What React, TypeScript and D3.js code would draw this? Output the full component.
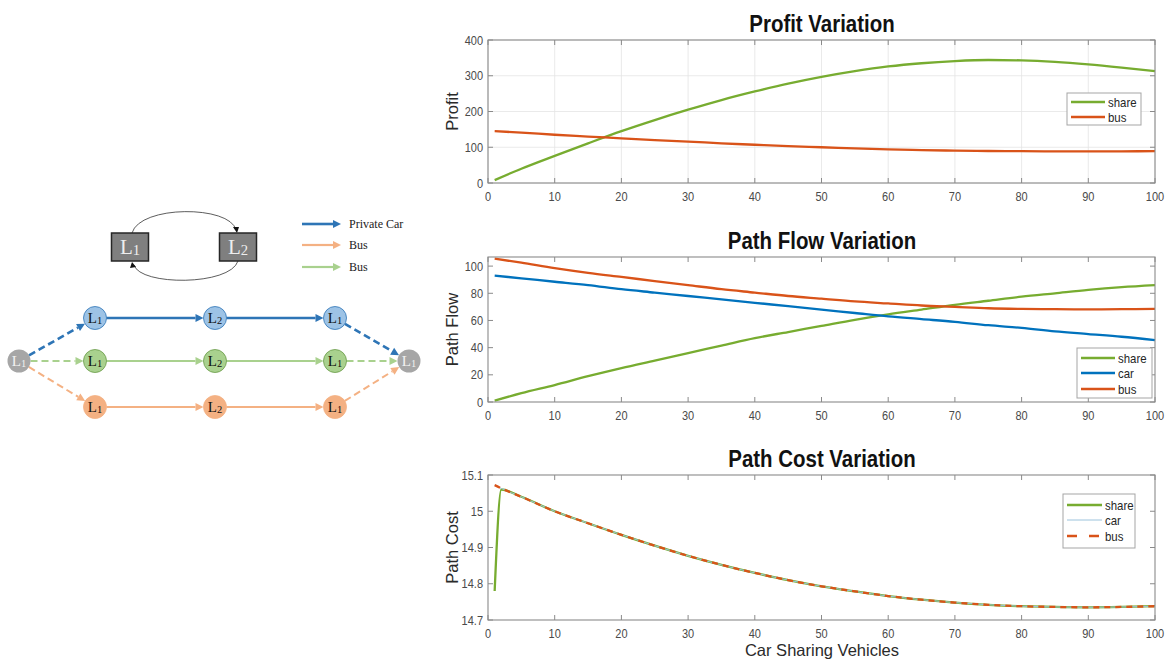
import * as d3 from 'd3';

// x positions (car sharing vehicles)
const flowX = [1, 5, 10, 15, 20, 25, 30, 35, 40, 45, 50, 55, 60, 65, 70, 75, 80, 85, 90, 95, 100];

const profitShare = [8, 40, 76, 111, 145, 176, 205, 232, 256, 278, 297, 313, 326, 335, 341, 344, 343, 339, 332, 323, 313];
const profitBus = [145, 141, 135, 130, 125, 120, 116, 111, 107, 103, 100, 97, 94, 92, 90.5, 89.5, 89, 88.5, 88.5, 88.7, 89];

const flowShare = [1, 6.5, 12.5, 19, 25, 30.5, 36, 41.5, 47, 51.5, 56, 60.5, 64.5, 68, 71.5, 74.5, 77.5, 80, 82.5, 84.5, 86];
const flowCar = [93, 91, 88.5, 86, 83, 80.5, 78, 75.5, 73, 70.5, 68, 65.5, 63, 61, 59, 56.5, 54.5, 52, 50, 48, 45.5];
const flowBus = [105.5, 102.5, 98.5, 95, 92, 89, 86, 83, 80.5, 78, 76, 74, 72.5, 71, 70, 69, 68.5, 68.3, 68.2, 68.3, 68.5];

const costX = [1, 2, 5, 10, 15, 20, 25, 30, 35, 40, 45, 50, 55, 60, 65, 70, 75, 80, 85, 90, 95, 100];
const costShare = [14.78, 15.06, 15.04, 15.0, 14.967, 14.935, 14.905, 14.877, 14.852, 14.83, 14.81, 14.793, 14.779, 14.766, 14.756, 14.748, 14.742, 14.738, 14.736, 14.735, 14.736, 14.738];
const costCar = [15.072, 15.063, 15.04, 15.0, 14.967, 14.935, 14.905, 14.877, 14.852, 14.83, 14.81, 14.793, 14.779, 14.766, 14.756, 14.748, 14.742, 14.738, 14.736, 14.735, 14.736, 14.738];
const costBus = [15.072, 15.063, 15.04, 15.0, 14.967, 14.935, 14.905, 14.877, 14.852, 14.83, 14.81, 14.793, 14.779, 14.766, 14.756, 14.748, 14.742, 14.738, 14.736, 14.735, 14.736, 14.738];

const xTicks = [0, 10, 20, 30, 40, 50, 60, 70, 80, 90, 100];

const GREEN = '#77ac30';
const BLUE = '#0072bd';
const ORANGE = '#d95319';
const LIGHTBLUE = '#9cc3dc';

const LEFT = 488;
const RIGHT = 1155;
const SANS = "'Liberation Sans', Arial, sans-serif";
const SERIF = "'Liberation Serif', 'Times New Roman', serif";

type Series = { name: string; xs: number[]; ys: number[]; color: string; width: number; dash?: string };
type Panel = {
  title: string; ylabel: string; top: number; bottom: number; domain: [number, number];
  yTicks: number[]; yFmt: (v: number) => string; grid: boolean; series: Series[];
  legend: { x: number; y: number; w: number; h: number; rowY: number[]; lineLen: number };
};

const panels: Panel[] = [
  {
    title: 'Profit Variation', ylabel: 'Profit', top: 40, bottom: 183, domain: [0, 400],
    yTicks: [0, 100, 200, 300, 400], yFmt: v => String(v), grid: true,
    series: [
      { name: 'share', xs: flowX, ys: profitShare, color: GREEN, width: 2.3 },
      { name: 'bus', xs: flowX, ys: profitBus, color: ORANGE, width: 2.3 },
    ],
    legend: { x: 1067, y: 93, w: 74, h: 32, rowY: [102, 117], lineLen: 34 },
  },
  {
    title: 'Path Flow Variation', ylabel: 'Path Flow', top: 257, bottom: 402, domain: [0, 106.7],
    yTicks: [0, 20, 40, 60, 80, 100], yFmt: v => String(v), grid: false,
    series: [
      { name: 'share', xs: flowX, ys: flowShare, color: GREEN, width: 2.3 },
      { name: 'car', xs: flowX, ys: flowCar, color: BLUE, width: 2.3 },
      { name: 'bus', xs: flowX, ys: flowBus, color: ORANGE, width: 2.3 },
    ],
    legend: { x: 1077, y: 348, w: 75, h: 50, rowY: [358, 373, 389], lineLen: 34 },
  },
  {
    title: 'Path Cost Variation', ylabel: 'Path Cost', top: 475, bottom: 620, domain: [14.7, 15.1],
    yTicks: [14.7, 14.8, 14.9, 15.0, 15.1], yFmt: v => d3.format('~g')(+v.toFixed(1)), grid: false,
    series: [
      { name: 'share', xs: costX, ys: costShare, color: GREEN, width: 2.3 },
      { name: 'car', xs: costX, ys: costCar, color: LIGHTBLUE, width: 1 },
      { name: 'bus', xs: costX, ys: costBus, color: ORANGE, width: 2.3, dash: '6,5' },
    ],
    legend: { x: 1063, y: 494, w: 72, h: 54, rowY: [505, 520, 536], lineLen: 35 },
  },
];

// condensed text (the reference uses a narrow Helvetica)
function NText({ x, y, anchor = 'start', size, children, fill = '#4a4a4a', weight, sx = 0.88 }:
  { x: number; y: number; anchor?: string; size: number; children: any; fill?: string; weight?: string; sx?: number }) {
  return (
    <text transform={`translate(${x},${y}) scale(${sx},1)`} textAnchor={anchor} fontSize={size}
      fill={fill} fontWeight={weight} fontFamily={SANS}>{children}</text>
  );
}

function Chart({ p }: { p: Panel }) {
  const x = d3.scaleLinear().domain([0, 100]).range([LEFT, RIGHT]);
  const y = d3.scaleLinear().domain(p.domain).range([p.bottom, p.top]);
  const line = d3.line<[number, number]>().x(d => x(d[0])).y(d => y(d[1])).curve(d3.curveMonotoneX);
  const tk = 5;
  const axisColor = '#8a8a8a';
  return (
    <g>
      {p.grid && xTicks.map(t => (
        <line key={'gx' + t} x1={x(t)} x2={x(t)} y1={p.top} y2={p.bottom} stroke="#e4e4e4" strokeWidth={0.8} />
      ))}
      {p.grid && p.yTicks.map(t => (
        <line key={'gy' + t} x1={LEFT} x2={RIGHT} y1={y(t)} y2={y(t)} stroke="#e4e4e4" strokeWidth={0.8} />
      ))}
      {p.series.map(s => (
        <path key={s.name} d={line(s.xs.map((v, i) => [v, s.ys[i]] as [number, number])) || ''}
          fill="none" stroke={s.color} strokeWidth={s.width} strokeDasharray={s.dash} />
      ))}
      <rect x={LEFT} y={p.top} width={RIGHT - LEFT} height={p.bottom - p.top} fill="none" stroke={axisColor} strokeWidth={1.1} />
      {xTicks.map(t => (
        <g key={'xt' + t}>
          <line x1={x(t)} x2={x(t)} y1={p.bottom} y2={p.bottom - tk} stroke={axisColor} />
          <line x1={x(t)} x2={x(t)} y1={p.top} y2={p.top + tk} stroke={axisColor} />
          <NText x={x(t)} y={p.bottom + 18} anchor="middle" size={12.5}>{t}</NText>
        </g>
      ))}
      {p.yTicks.map(t => (
        <g key={'yt' + t}>
          <line x1={LEFT} x2={LEFT + tk} y1={y(t)} y2={y(t)} stroke={axisColor} />
          <line x1={RIGHT} x2={RIGHT - tk} y1={y(t)} y2={y(t)} stroke={axisColor} />
          <NText x={LEFT - 5} y={y(t) + 4.5} anchor="end" size={12.5}>{p.yFmt(t)}</NText>
        </g>
      ))}
      <NText x={822} y={p.top - 8} anchor="middle" size={23.5} weight="bold" fill="#111" sx={0.87}>{p.title}</NText>
      <text transform={`translate(${LEFT - 30},${(p.top + p.bottom) / 2}) rotate(-90)`} textAnchor="middle"
        fontSize={16.5} fill="#2a2a2a" fontFamily={SANS}>{p.ylabel}</text>
      <rect x={p.legend.x} y={p.legend.y} width={p.legend.w} height={p.legend.h} fill="#fff" stroke="#a5a5a5" strokeWidth={1} />
      {p.series.map((s, i) => (
        <g key={'lg' + s.name}>
          <line x1={p.legend.x + 4} x2={p.legend.x + 4 + p.legend.lineLen} y1={p.legend.rowY[i]} y2={p.legend.rowY[i]}
            stroke={s.color} strokeWidth={s.width} strokeDasharray={s.dash ? '10,12' : undefined} />
          <NText x={p.legend.x + 7 + p.legend.lineLen} y={p.legend.rowY[i] + 4.5} size={13} fill="#262626">{s.name}</NText>
        </g>
      ))}
    </g>
  );
}

// ---- left network diagram ----
const rowColors = {
  car: { fill: '#9dc3e6', stroke: '#2e75b6', arrow: '#2e75b6', w: 2.6 },
  share: { fill: '#a9d18e', stroke: '#6a9a48', arrow: '#a9d18e', w: 2 },
  bus: { fill: '#f4b183', stroke: '#f4b183', arrow: '#f4b183', w: 2 },
};
const rows = [
  { key: 'car', y: 318 },
  { key: 'share', y: 361 },
  { key: 'bus', y: 407 },
] as const;
const stopX = [95, 215, 335];
const stopNames = ['1', '2', '1'];
const R = 11.5;

function NodeLabel({ x, y, sub, color, size = 15 }: { x: number; y: number; sub: string; color: string; size?: number }) {
  return (
    <text x={x} y={y + size * 0.33} textAnchor="middle" fontFamily={SERIF} fontSize={size} fill={color}>
      L<tspan fontSize={size * 0.7} dy={size * 0.06}>{sub}</tspan>
    </text>
  );
}

function Arrow({ x1, y1, x2, y2, color, w, dash }: { x1: number; y1: number; x2: number; y2: number; color: string; w: number; dash?: boolean }) {
  const ang = Math.atan2(y2 - y1, x2 - x1);
  const hl = 8, hw = 4;
  const bx = x2 - hl * Math.cos(ang), by = y2 - hl * Math.sin(ang);
  const px = -Math.sin(ang) * hw, py = Math.cos(ang) * hw;
  return (
    <g>
      <line x1={x1} y1={y1} x2={bx} y2={by} stroke={color} strokeWidth={w} strokeDasharray={dash ? '7,4' : undefined} />
      <polygon points={`${x2},${y2} ${bx + px},${by + py} ${bx - px},${by - py}`} fill={color} />
    </g>
  );
}

function Diagram() {
  const start = { x: 19, y: 361 };
  const end = { x: 409, y: 361 };
  return (
    <g>
      {/* two-station loop */}
      <path d="M132,233 C140,205 230,205 236,230" fill="none" stroke="#333" strokeWidth={0.8} />
      <polygon points="237,233 233,227 239,227" fill="#111" />
      <path d="M238,261 C230,286 140,286 134,265" fill="none" stroke="#333" strokeWidth={0.8} />
      <polygon points="132,262 130,268 136,267" fill="#111" />
      <rect x={111.5} y={233} width={37} height={28} fill="#7f7f7f" stroke="#262626" strokeWidth={1.5} />
      <rect x={219.5} y={233} width={37} height={28} fill="#7f7f7f" stroke="#262626" strokeWidth={1.5} />
      <NodeLabel x={130} y={247} sub="1" color="#eeeeee" size={21} />
      <NodeLabel x={238} y={247} sub="2" color="#eeeeee" size={21} />

      {/* legend */}
      {[
        { label: 'Private Car', c: rowColors.car.arrow, w: 2.6, y: 224 },
        { label: 'Bus', c: rowColors.bus.arrow, w: 2.2, y: 245 },
        { label: 'Bus', c: rowColors.share.arrow, w: 2.2, y: 267 },
      ].map((l, i) => (
        <g key={'dl' + i}>
          <Arrow x1={302} y1={l.y} x2={341} y2={l.y} color={l.c} w={l.w} />
          <text x={349} y={l.y + 4} fontFamily={SERIF} fontSize={12} fill="#222">{l.label}</text>
        </g>
      ))}

      {/* edges */}
      {rows.map(r => {
        const c = rowColors[r.key];
        const ang1 = Math.atan2(r.y - start.y, stopX[0] - start.x);
        const ang2 = Math.atan2(end.y - r.y, end.x - stopX[2]);
        return (
          <g key={'e' + r.key}>
            <Arrow x1={start.x + R * Math.cos(ang1)} y1={start.y + R * Math.sin(ang1)}
              x2={stopX[0] - R * Math.cos(ang1)} y2={r.y - R * Math.sin(ang1)} color={c.arrow} w={c.w} dash />
            <Arrow x1={stopX[0] + R} y1={r.y} x2={stopX[1] - R} y2={r.y} color={c.arrow} w={c.w} />
            <Arrow x1={stopX[1] + R} y1={r.y} x2={stopX[2] - R} y2={r.y} color={c.arrow} w={c.w} />
            <Arrow x1={stopX[2] + R * Math.cos(ang2)} y1={r.y + R * Math.sin(ang2)}
              x2={end.x - R * Math.cos(ang2)} y2={end.y - R * Math.sin(ang2)} color={c.arrow} w={c.w} dash />
          </g>
        );
      })}

      {/* nodes */}
      {rows.map(r => {
        const c = rowColors[r.key];
        return stopX.map((sx, i) => (
          <g key={'n' + r.key + i}>
            <circle cx={sx} cy={r.y} r={R} fill={c.fill} stroke={c.stroke} strokeWidth={0.8} />
            <NodeLabel x={sx} y={r.y} sub={stopNames[i]} color="#111" />
          </g>
        ));
      })}
      {[start, end].map((n, i) => (
        <g key={'se' + i}>
          <circle cx={n.x} cy={n.y} r={R} fill="#a6a6a6" />
          <NodeLabel x={n.x} y={n.y} sub="1" color="#f2f2f2" />
        </g>
      ))}
    </g>
  );
}

export default function App() {
  return (
    <svg width={1169} height={663} style={{ position: 'absolute', left: 0, top: 0, background: '#fff' }}>
      <rect width={1169} height={663} fill="#fff" />
      <Diagram />
      {panels.map(p => <Chart key={p.title} p={p} />)}
      <text x={822} y={656} textAnchor="middle" fontSize={16.5} fill="#2a2a2a" fontFamily={SANS}>Car Sharing Vehicles</text>
    </svg>
  );
}
